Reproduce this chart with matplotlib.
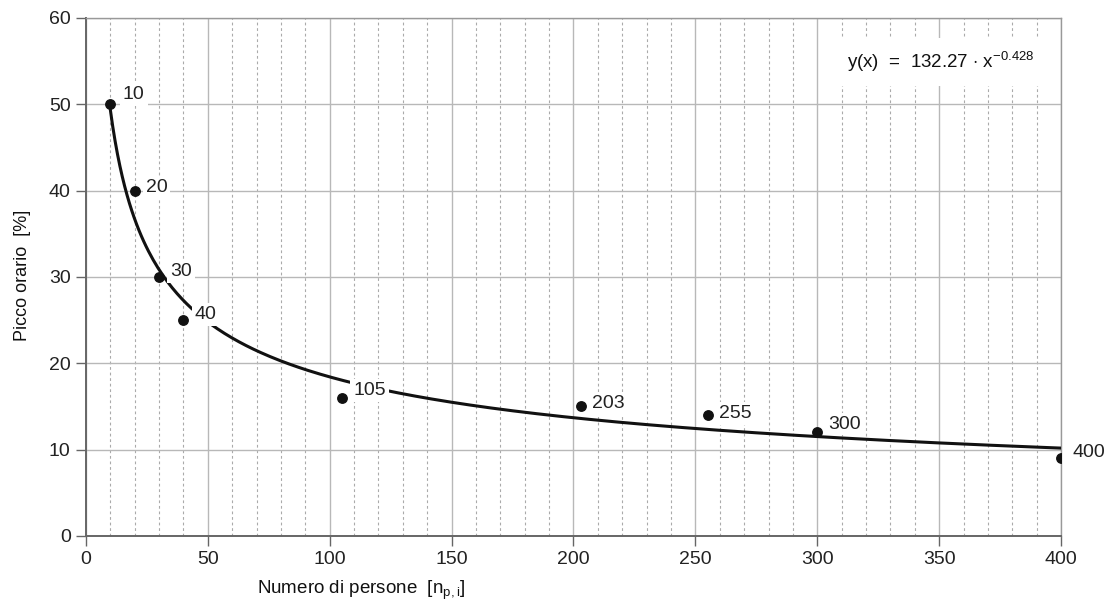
import numpy as np
import matplotlib
matplotlib.use("Agg")
import matplotlib.pyplot as plt
from matplotlib.ticker import MultipleLocator

plt.rcParams['font.family'] = ['Liberation Sans', 'DejaVu Sans']
plt.rcParams['mathtext.fontset'] = 'custom'
plt.rcParams['mathtext.rm'] = 'Liberation Sans'

# data
persons = [10, 20, 30, 40, 105, 203, 255, 300, 400]
peak = [50, 40, 30, 25, 16, 15, 14, 12, 9]
point_labels = ["10", "20", "30", "40", "105", "203", "255", "300", "400"]
fit_a = 132.27
fit_b = -0.428
x_ticks = [0, 50, 100, 150, 200, 250, 300, 350, 400]
y_ticks = [0, 10, 20, 30, 40, 50, 60]

fig = plt.figure(figsize=(11.05, 6.12), dpi=100)
ax = fig.add_axes([0.0778, 0.1242, 0.8824, 0.8464])

xc = np.linspace(min(persons), max(persons), 400)
ax.plot(xc, fit_a * xc ** fit_b, color='#111111', lw=2.2, zorder=3)
ax.plot(persons, peak, 'o', color='#111111', ms=6.8, zorder=5)

offsets = {
    "10": (9, 1), "20": (8, 2), "30": (8, 4), "40": (8, 4), "105": (8, 5),
    "203": (8, 2), "255": (8, 1), "300": (8, 6), "400": (8, 4),
}
for x, y, t in zip(persons, peak, point_labels):
    dx, dy = offsets[t]
    ax.annotate(t, (x, y), xytext=(dx, dy), textcoords='offset points',
                fontsize=14, va='bottom' if t in ("10",) else 'center', ha='left',
                color='#222222', zorder=4,
                bbox=dict(boxstyle='square,pad=0.15', fc='white', ec='none'))

ax.text(0.973, 0.915, r"y(x)  =  132.27 $\cdot$ x$^{\mathregular{-0.428}}$", transform=ax.transAxes,
        ha='right', va='center', fontsize=13.5, color='#111111', zorder=4,
        bbox=dict(boxstyle='square,pad=0.6', fc='white', ec='none'))

ax.set_xlim(0, 400)
ax.set_ylim(0, 60)
ax.set_xticks(x_ticks)
ax.set_yticks(y_ticks)
ax.xaxis.set_minor_locator(MultipleLocator(10))
ax.grid(which='major', color='#b8b8b8', lw=1.0, ls='-', zorder=0)
ax.grid(which='minor', axis='x', color='#aaaaaa', lw=0.8, ls=(0, (2.5, 2.5)), zorder=0)
ax.tick_params(which='minor', length=0)
ax.tick_params(which='major', direction='out', length=7, width=1.0, color='#666666',
               labelsize=14, labelcolor='#222222', pad=4)
for s in ['left', 'bottom']:
    ax.spines[s].set_color('#666666')
    ax.spines[s].set_linewidth(1.4)
for s in ['top', 'right']:
    ax.spines[s].set_color('#999999')
    ax.spines[s].set_linewidth(1.0)
ax.set_axisbelow(True)

fig.text(0.233, 0.035, r"Numero di persone  [n$_{\mathregular{p,i}}$]", fontsize=13.5, color='#111111',
         ha='left', va='center')
fig.text(0.02, 0.55, "Picco orario  [%]", fontsize=13, color='#111111', rotation=90,
         ha='center', va='center')

fig.savefig("out.png", dpi=100)
